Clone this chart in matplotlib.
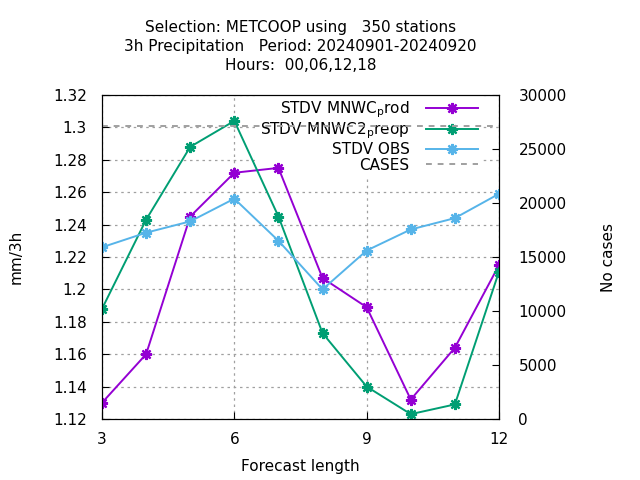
import numpy as np
import matplotlib
matplotlib.use("Agg")
import matplotlib.pyplot as plt
from matplotlib.ticker import FuncFormatter, MultipleLocator

# data
lead = [3, 4, 5, 6, 7, 8, 9, 10, 11, 12]
stdv_prod = [1.130, 1.160, 1.245, 1.272, 1.275, 1.207, 1.189, 1.132, 1.164, 1.215]
stdv_preop = [1.188, 1.243, 1.288, 1.304, 1.245, 1.173, 1.140, 1.123, 1.129, 1.211]
stdv_obs = [1.226, 1.235, 1.242, 1.256, 1.230, 1.200, 1.224, 1.237, 1.244, 1.259]
cases = [27100] * 10

title = ("Selection: METCOOP using   350 stations\n"
         "3h Precipitation   Period: 20240901-20240920\n"
         "Hours:  00,06,12,18")

plt.rcParams['font.family'] = ['DejaVu Sans']
plt.rcParams['font.size'] = 11

fig = plt.figure(figsize=(6.4, 4.8), dpi=100)
ax = fig.add_axes([102/640, 1-419/480, 397/640, 324/480])
ax2 = ax.twinx()
ax.set_axisbelow(True)

mk = (8, 2, 0)
ax.plot(lead, stdv_prod, color='#9400d3', lw=1.4, marker=mk, ms=8, mew=1.6,
        label=r'STDV MNWC$_{\rm p}$rod', zorder=3)
ax.plot(lead, stdv_preop, color='#009e73', lw=1.4, marker=mk, ms=8, mew=1.6,
        label=r'STDV MNWC2$_{\rm p}$reop', zorder=3)
ax.plot(lead, stdv_obs, color='#56b4e9', lw=1.4, marker=mk, ms=8, mew=1.6,
        label='STDV OBS', zorder=3)
cl, = ax2.plot(lead, cases, color='#a0a0a0', lw=1.4, ls=(0, (3, 3)), label='CASES')

ax.set_xlim(3, 12)
ax.set_ylim(1.12, 1.32)
ax2.set_ylim(0, 30000)
ax.set_xticks([3, 6, 9, 12])
ax.yaxis.set_major_locator(MultipleLocator(0.02))
ax.yaxis.set_major_formatter(FuncFormatter(lambda v, p: '%g' % round(v, 2)))
ax2.yaxis.set_major_locator(MultipleLocator(5000))
ax.tick_params(direction='in', length=5, top=False, right=False, labelsize=11)
ax.tick_params(axis='y', pad=11)
ax.tick_params(axis='x', pad=9)
ax2.tick_params(direction='in', length=5, labelsize=11, pad=14)
ax.grid(True, color='#a0a0a0', ls=(0, (2, 3)), lw=0.9)

ax.set_xlabel('Forecast length', labelpad=9)
ax.set_ylabel('mm/3h', labelpad=21)
ax2.set_ylabel('No cases', labelpad=25)
ax.set_title(title, fontsize=11, linespacing=1.32, pad=18)

h, l = ax.get_legend_handles_labels()
leg = ax.legend(h + [cl], l + ['CASES'], loc='upper right',
                bbox_to_anchor=(0.975, 1.02), markerfirst=False, frameon=True,
                framealpha=1, edgecolor='none', fancybox=False,
                handlelength=3.4, labelspacing=0.05, borderpad=0.2,
                handletextpad=1.1, fontsize=11)
leg.set_zorder(2)
for text in leg.get_texts():
    text.set_ha('right')
leg._legend_box.align = 'right'

fig.savefig('out.png', dpi=100)
